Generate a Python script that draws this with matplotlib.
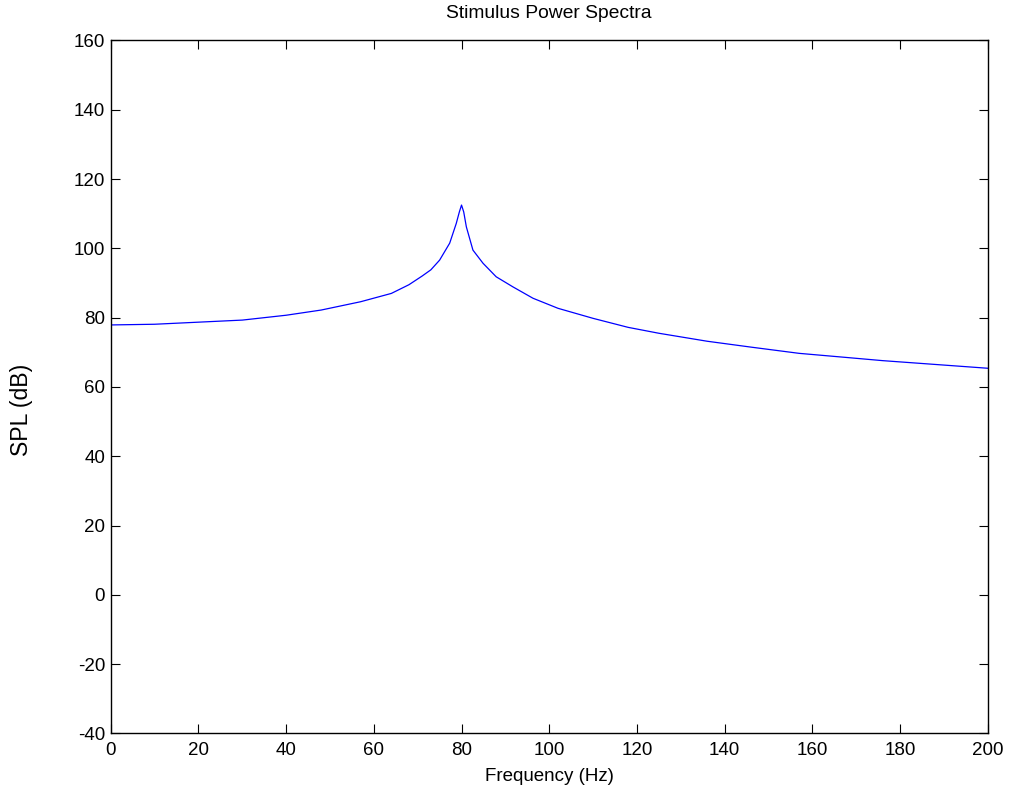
import matplotlib
matplotlib.use("Agg")
import matplotlib.pyplot as plt

freq_hz = [0, 10, 20, 30, 40, 48, 57, 64, 68, 71, 73, 75, 77.3, 78.8, 79.5, 80, 80.5,
           81.1, 82.6, 84.9, 87.9, 91.7, 96.3, 102, 110, 118, 125, 136, 146, 157, 167,
           176, 188, 200]
spl_db = [77.9, 78.1, 78.7, 79.3, 80.7, 82.2, 84.6, 87.0, 89.5, 92.0, 93.8, 96.6, 101.5,
          107.2, 110.5, 112.5, 110.5, 106.2, 99.5, 95.7, 91.8, 88.9, 85.6, 82.7, 79.8,
          77.2, 75.5, 73.2, 71.5, 69.7, 68.6, 67.6, 66.5, 65.4]
x_ticks = [0, 20, 40, 60, 80, 100, 120, 140, 160, 180, 200]
y_ticks = [-40, -20, 0, 20, 40, 60, 80, 100, 120, 140, 160]

plt.rcParams['font.family'] = ['Liberation Sans', 'DejaVu Sans']
plt.rcParams['axes.unicode_minus'] = False

fig = plt.figure(figsize=(10.10, 7.87), dpi=100)
ax = fig.add_axes([0.1096, 0.068, 0.8684, 0.8806])
ax.plot(freq_hz, spl_db, color='#0000FF', linewidth=0.9)
ax.set_xlim(0, 200)
ax.set_ylim(-40, 160)
ax.set_xticks(x_ticks)
ax.set_yticks(y_ticks)
ax.tick_params(direction='in', length=6.5, width=0.8, top=True, right=True,
               labelsize=13.5)
ax.tick_params(axis='x', pad=6)
ax.tick_params(axis='y', pad=4)
for s in ax.spines.values():
    s.set_linewidth(1.0)
ax.set_title('Stimulus Power Spectra', fontsize=13.9, pad=16.5)
ax.set_xlabel('Frequency (Hz)', fontsize=13.5, labelpad=6.5)
ax.set_ylabel('SPL (dB)', fontsize=16.6)
ax.yaxis.set_label_coords(-0.0886, 0.4668)
fig.savefig('out.png', dpi=100)
